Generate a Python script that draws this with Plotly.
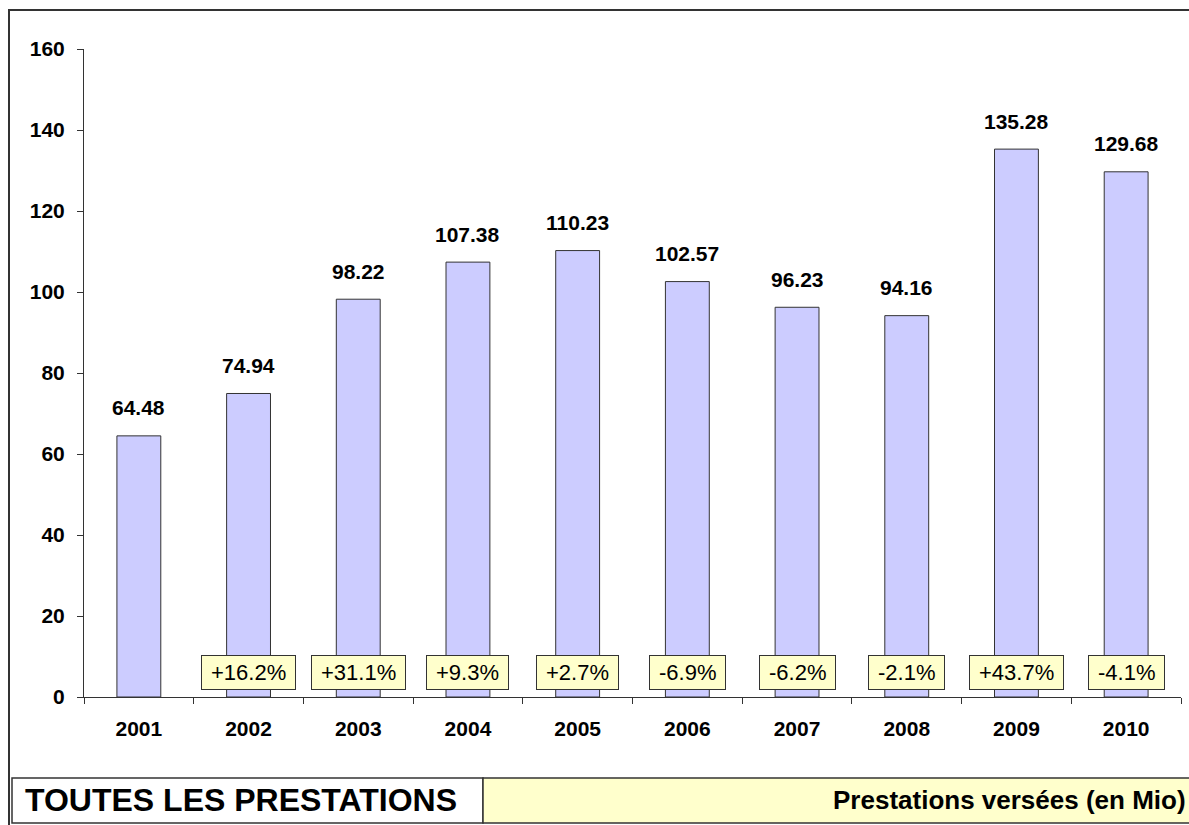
import plotly.graph_objects as go

years = ["2001", "2002", "2003", "2004", "2005", "2006", "2007", "2008", "2009", "2010"]
values = [64.48, 74.94, 98.22, 107.38, 110.23, 102.57, 96.23, 94.16, 135.28, 129.68]
value_labels = ["64.48", "74.94", "98.22", "107.38", "110.23", "102.57", "96.23", "94.16", "135.28", "129.68"]
pct_labels = [None, "+16.2%", "+31.1%", "+9.3%", "+2.7%", "-6.9%", "-6.2%", "-2.1%", "+43.7%", "-4.1%"]
y_ticks = [0, 20, 40, 60, 80, 100, 120, 140, 160]

title_left = "TOUTES LES PRESTATIONS"
title_right = "Prestations versées (en Mio)"

W, H = 1189, 825
PL, PR, PT, PB = 84, 1181, 49, 697  # plot area in pixels
FONT = "Liberation Sans, Arial, sans-serif"
DARK = "#333333"


def px(x):
    return (x - PL) / (PR - PL)


def py(y):
    return (PB - y) / (PB - PT)


fig = go.Figure()
fig.add_trace(go.Bar(
    x=years, y=values,
    marker=dict(color="#CCCCFF", line=dict(color=DARK, width=1)),
    hoverinfo="x+y",
))

annotations = []
for i, (v, lab) in enumerate(zip(values, value_labels)):
    annotations.append(dict(
        x=i, y=v, xref="x", yref="y", text=lab, showarrow=False,
        yanchor="middle", yshift=28,
        font=dict(family=FONT, size=21, color="#000000", weight="bold"),
    ))

em = {"+": 0.584, "-": 0.333, ".": 0.278, "%": 0.889}
PFS = 22
for i, lab in enumerate(pct_labels):
    if not lab:
        continue
    w = sum(em.get(c, 0.556) for c in lab) * PFS + 16
    annotations.append(dict(
        x=i, y=0, xref="x", yref="y", text=lab, showarrow=False,
        yanchor="bottom", yshift=7, width=w, height=31, borderpad=1,
        bgcolor="#FFFFCC", bordercolor=DARK, borderwidth=1,
        font=dict(family=FONT, size=PFS, color="#000000"),
    ))

# bottom table texts
annotations.append(dict(
    x=px(23), y=py(800), xref="paper", yref="paper", text=title_left,
    showarrow=False, xanchor="left", yanchor="middle",
    font=dict(family=FONT, size=32, color="#000000", weight="bold"),
))
annotations.append(dict(
    x=px(1188), y=py(800), xref="paper", yref="paper", text=title_right,
    showarrow=False, xanchor="right", yanchor="middle",
    font=dict(family=FONT, size=26, color="#000000", weight="bold"),
))

shapes = [
    # outer border
    dict(type="rect", xref="paper", yref="paper", x0=px(9), x1=px(1200), y0=py(840), y1=py(10),
         line=dict(color=DARK, width=2), fillcolor="rgba(0,0,0,0)", layer="below"),
    # table cells
    dict(type="rect", xref="paper", yref="paper", x0=px(12), x1=px(483), y0=py(823), y1=py(778),
         line=dict(color=DARK, width=1.5), fillcolor="#FFFFFF", layer="below"),
    dict(type="rect", xref="paper", yref="paper", x0=px(483), x1=px(1200), y0=py(823), y1=py(778),
         line=dict(color=DARK, width=1.5), fillcolor="#FFFFCC", layer="below"),
]

fig.update_layout(
    width=W, height=H,
    margin=dict(l=PL, r=W - PR, t=PT, b=H - PB, pad=0),
    paper_bgcolor="#FFFFFF", plot_bgcolor="#FFFFFF",
    showlegend=False, bargap=0.6,
    annotations=annotations, shapes=shapes,
    font=dict(family=FONT, color="#000000"),
)
fig.update_xaxes(
    type="category", range=[-0.5, len(years) - 0.5], autorange=False,
    showgrid=False, showline=True, linecolor=DARK, linewidth=1,
    ticks="outside", tickson="boundaries", ticklen=6, tickcolor=DARK,
    tickfont=dict(family=FONT, size=21, color="#000000", weight="bold"), ticklabelstandoff=13,
    tickangle=0,
)
fig.update_yaxes(
    range=[0, 160], autorange=False, tickvals=y_ticks, showgrid=False, zeroline=False,
    showline=True, linecolor=DARK, linewidth=1,
    ticks="outside", ticklen=6, tickcolor=DARK,
    tickfont=dict(family=FONT, size=21, color="#000000", weight="bold"), ticklabelstandoff=8,
)

fig.write_html(
    "out.html",
    config={"displayModeBar": False},
    post_script="document.body.style.margin='0';document.body.style.overflow='hidden';",
)
